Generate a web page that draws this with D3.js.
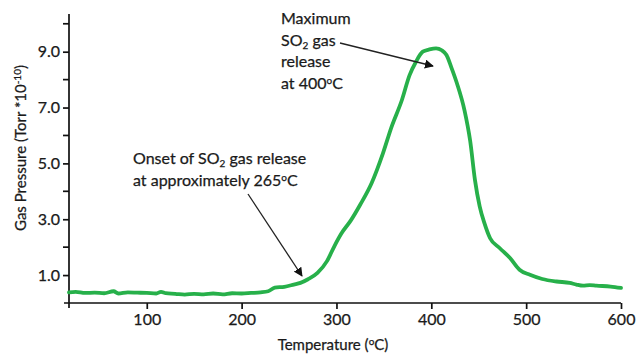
<!DOCTYPE html>
<html>
<head>
<meta charset="utf-8">
<script src="https://cdn.jsdelivr.net/npm/d3@7"></script>
<style>
	body { margin: 0; background: #fff; }
	svg text { font-family: Lato, 'Open Sans', sans-serif; fill: #1a1a1a; stroke: #1a1a1a; stroke-width: 0.25px; }
</style>
</head>
<body>
<svg width="636" height="356"></svg>
<script>
// temperature (°C) and SO2 gas pressure (Torr * 10^-10)
const temps = [18, 25, 35, 45, 55, 65, 70, 80, 90, 100, 110, 115, 120, 130, 140, 150, 160, 170, 180, 190,
	200, 210, 220, 228, 235, 245, 255, 262, 270, 280, 290, 298, 305, 315, 325, 337, 349, 358, 369, 377,
	384, 391, 398, 405, 411, 416, 421, 427, 435, 441, 446, 451, 456, 462, 472, 483, 493, 504, 517, 532,
	546, 553, 560, 567, 574, 589, 600];
const pressure = [0.38, 0.40, 0.36, 0.37, 0.35, 0.42, 0.34, 0.38, 0.37, 0.36, 0.34, 0.40, 0.35, 0.33, 0.30, 0.33, 0.31, 0.34, 0.31, 0.35,
	0.34, 0.36, 0.38, 0.42, 0.55, 0.58, 0.66, 0.72, 0.85, 1.08, 1.50, 2.05, 2.48, 2.95, 3.52, 4.29, 5.36, 6.30, 7.27, 8.15,
	8.65, 9.00, 9.08, 9.12, 9.05, 8.88, 8.45, 7.87, 6.90, 5.80, 4.41, 3.46, 2.86, 2.32, 1.97, 1.61, 1.19, 1.01, 0.86, 0.77,
	0.72, 0.66, 0.62, 0.64, 0.62, 0.59, 0.54];

const xTicks = [100, 200, 300, 400, 500, 600];
const yLabelTicks = [1, 3, 5, 7, 9];
const yMinorTicks = [2, 4, 6, 8, 10];

const svg = d3.select('svg');

const x = d3.scaleLinear().domain([18, 600]).range([69, 621]);
const y = d3.scaleLinear().domain([0, 10.35]).range([303, 14]);

const data = temps.map((t, i) => ({ t, p: pressure[i] }));

// axes
const xAxis = svg.append('g')
	.attr('transform', `translate(0,${y(0)})`)
	.call(d3.axisBottom(x).tickValues(xTicks).tickSize(6).tickPadding(5).tickSizeOuter(0));
xAxis.select('.domain').attr('d', `M${x(18) - 5},0H${x(600)}`);

const yAxis = svg.append('g')
	.attr('transform', `translate(${x(18)},0)`)
	.call(d3.axisLeft(y).tickValues(yLabelTicks).tickFormat(d3.format('.1f')).tickSize(6).tickPadding(3).tickSizeOuter(0));
yAxis.select('.domain').attr('d', `M0,${y(10.35)}V${y(0) + 5}`);

yAxis.selectAll('.minor')
	.data(yMinorTicks)
	.enter()
	.append('line')
	.attr('class', 'minor')
	.attr('x1', -6)
	.attr('x2', 0)
	.attr('y1', d => y(d))
	.attr('y2', d => y(d));

svg.selectAll('.domain, .tick line, .minor')
	.attr('stroke', '#111')
	.attr('stroke-width', 1.7);
svg.selectAll('.tick text')
	.attr('font-size', 16)
	.attr('font-family', 'Lato, sans-serif')
	.attr('fill', '#1a1a1a');

// curve
svg.append('path')
	.datum(data)
	.attr('fill', 'none')
	.attr('stroke', '#27b04a')
	.attr('stroke-width', 3.8)
	.attr('stroke-linejoin', 'round')
	.attr('stroke-linecap', 'round')
	.attr('d', d3.line().x(d => x(d.t)).y(d => y(d.p)).curve(d3.curveMonotoneX));

// axis titles
const xt = svg.append('text')
	.attr('x', 333)
	.attr('y', 350)
	.attr('text-anchor', 'middle')
	.attr('font-size', 15);
xt.append('tspan').text('Temperature (');
xt.append('tspan').attr('font-size', 10).attr('dy', -5).text('o');
xt.append('tspan').attr('dy', 5).text('C)');

const yt = svg.append('text')
	.attr('transform', 'translate(26,148) rotate(-90)')
	.attr('text-anchor', 'middle')
	.attr('font-size', 15);
yt.append('tspan').text('Gas Pressure  (Torr *10');
yt.append('tspan').attr('font-size', 10).attr('dy', -5).text('-10');
yt.append('tspan').attr('dy', 5).text(')');

// annotations
svg.append('defs').append('marker')
	.attr('id', 'head')
	.attr('viewBox', '0 0 10 10')
	.attr('refX', 9)
	.attr('refY', 5)
	.attr('markerWidth', 9)
	.attr('markerHeight', 9)
	.attr('markerUnits', 'userSpaceOnUse')
	.attr('orient', 'auto')
	.append('path')
	.attr('d', 'M0,0L10,5L0,10Z')
	.attr('fill', '#111');

const arrow = (x1, y1, x2, y2) => svg.append('line')
	.attr('x1', x1).attr('y1', y1).attr('x2', x2).attr('y2', y2)
	.attr('stroke', '#222')
	.attr('stroke-width', 1.3)
	.attr('marker-end', 'url(#head)');

const addLine = (sel, parts) => {
	parts.forEach(p => {
		const s = sel.append('tspan').text(p.t);
		if (p.sub) s.attr('font-size', 10).attr('dy', 3);
		else if (p.sup) s.attr('font-size', 10).attr('dy', -5);
		else if (p.back) s.attr('dy', p.back);
	});
};

const onset = svg.append('g').attr('font-size', 16);
addLine(onset.append('text').attr('x', 133).attr('y', 164),
	[{ t: 'Onset of SO' }, { t: '2', sub: true }, { t: ' gas release', back: -3 }]);
addLine(onset.append('text').attr('x', 133).attr('y', 186),
	[{ t: 'at approximately 265' }, { t: 'o', sup: true }, { t: 'C', back: 5 }]);
arrow(248, 194, 302, 276);

const maxg = svg.append('g').attr('font-size', 16);
addLine(maxg.append('text').attr('x', 281).attr('y', 24), [{ t: 'Maximum' }]);
addLine(maxg.append('text').attr('x', 281).attr('y', 46),
	[{ t: 'SO' }, { t: '2', sub: true }, { t: ' gas', back: -3 }]);
addLine(maxg.append('text').attr('x', 281).attr('y', 67), [{ t: 'release' }]);
addLine(maxg.append('text').attr('x', 281).attr('y', 89),
	[{ t: 'at 400' }, { t: 'o', sup: true }, { t: 'C', back: 5 }]);
arrow(340, 43, 433, 66);
</script>
</body>
</html>
